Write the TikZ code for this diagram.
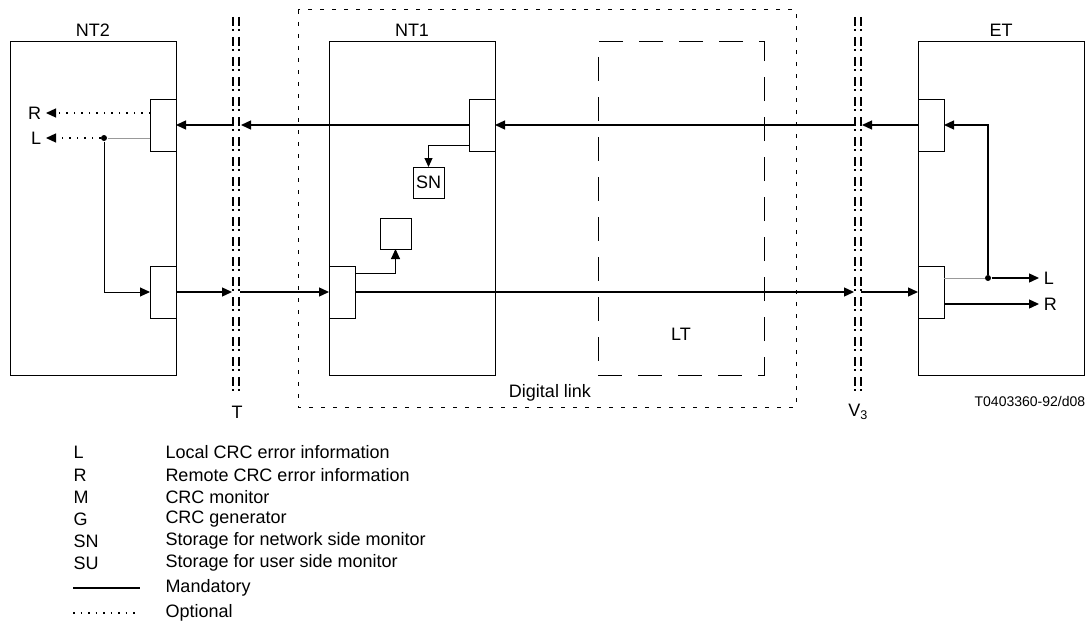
\documentclass[tikz,border=0pt]{standalone}
\usepackage{fontspec}
\setmainfont{Liberation Sans}
\usetikzlibrary{arrows.meta,positioning}

\begin{document}
\begin{tikzpicture}[x=1pt, y=-1pt, line width=1pt,
    every node/.style={font=\fontsize{18}{21}\selectfont},
    unit/.style={draw, anchor=north west, inner sep=0pt, outer sep=0pt, minimum width=166pt, minimum height=333pt},
    port/.style={draw, fill=white, anchor=north west, inner sep=0pt, outer sep=0pt, minimum width=26pt, minimum height=52pt},
    store/.style={draw, anchor=north west, inner sep=0pt, outer sep=0pt, minimum width=31pt, minimum height=31pt},
    sig/.style={-{Triangle[length=10pt,width=9pt]}, line width=1.3pt},
    tap/.style={draw=gray!80, line width=1pt},
    opt/.style={line width=1.2pt, dash pattern=on 1.5pt off 6pt},
    iface/.style={line width=2.2pt, dash pattern=on 9pt off 3pt on 2pt off 6pt},
    dot/.style={circle, fill, inner sep=0pt, minimum size=6pt}]
  \useasboundingbox (0,0) rectangle (1091,626);

  % digital link frame and LT
  \draw[dash pattern=on 4pt off 8pt] (298,10) rectangle (796,407);
  \node (lt) [unit, dash pattern=on 24pt off 16pt] at (598,42) {};
  \node (ltlabel) at (681,334) {LT};
  \node (linklabel) at (550,393) {Digital link};

  % equipment
  \node (nt2) [unit] at (10,42) {};
  \node (nt1) [unit] at (329,42) {};
  \node (et) [unit] at (918,42) {};
  \node (nt2name) [above=2pt of nt2.north] {NT2};
  \node (nt1name) [above=2pt of nt1.north] {NT1};
  \node (etname) [above=2pt of et.north] {ET};

  \node (nt2up) [port] at (150,99) {};
  \node (nt2lo) [port] at (150,266) {};
  \node (nt1up) [port] at (469,99) {};
  \node (nt1lo) [port] at (329,266) {};
  \node (etup) [port] at (918,99) {};
  \node (etlo) [port] at (918,266) {};
  \node (sn) [store] at (413,167) {SN};
  \node (gen) [store] at (380,218) {};

  % interfaces T and V3
  \foreach \xa in {233,239,855,861}
    \draw[iface] (\xa,17) -- (\xa,396);
  \node (tlabel) at (237,412) {T};
  \node (vlabel) at (858,412) {V\textsubscript{3}};
  \node (code) [anchor=east, font=\fontsize{14}{16}\selectfont] at (1089,401) {T0403360-92/d08};

  \coordinate (tUl) at (233,125);
  \coordinate (tUr) at (241,125);
  \coordinate (tLl) at (232,292);
  \coordinate (tLr) at (240,292);
  \coordinate (vUl) at (855,125);
  \coordinate (vUr) at (862,125);
  \coordinate (vLl) at (854,292);
  \coordinate (vLr) at (861,292);

  % main paths
  \draw[sig] (etup.west) -- (vUr);
  \draw[sig] (vUl) -- (nt1up.east);
  \draw[sig] (nt1up.west) -- (tUr);
  \draw[sig] (tUl) -- (nt2up.east);
  \draw[sig] (nt2lo.east) -- (tLl);
  \draw[sig] (tLr) -- (nt1lo.west);
  \draw[sig] (nt1lo.east) -- (vLl);
  \draw[sig] (vLr) -- (etlo.west);

  % NT2 side
  \coordinate (rIn) at (150,113);
  \coordinate (rOut) at (46,113);
  \coordinate (lIn) at (150,138);
  \coordinate (lOut) at (46,138);
  \node (nt2dot) [dot] at (104,138) {};
  \draw[opt, -{Triangle[length=10pt,width=9pt]}] (rIn) -- (rOut);
  \draw[tap] (lIn) -- (nt2dot);
  \draw[opt, -{Triangle[length=10pt,width=9pt]}] (nt2dot) -- (lOut);
  \draw[sig, line width=1pt] (nt2dot) |- (nt2lo.west);
  \node (rnt2) [left=1pt of rOut] {R};
  \node (lnt2) [left=1pt of lOut] {L};

  % NT1 side
  \coordinate (snTap) at (469,145);
  \coordinate (genTap) at (355,273);
  \draw[tap, -{Triangle[length=9pt,width=8pt]}, draw=black] (snTap) -| (sn.north);
  \draw[sig, line width=1pt] (genTap) -| (gen.south);

  % ET side
  \coordinate (etL) at (944,278);
  \coordinate (etR) at (944,304);
  \coordinate (lEnd) at (1039,278);
  \coordinate (rEnd) at (1039,304);
  \node (etdot) [dot] at (988,278) {};
  \draw[tap] (etL) -- (etdot);
  \draw[sig] (etdot) -- (lEnd);
  \draw[sig] (etdot) |- (etup.east);
  \draw[sig] (etR) -- (rEnd);
  \node (let) [right=1pt of lEnd] {L};
  \node (ret) [right=1pt of rEnd] {R};

  % key
  \foreach \y/\k/\d [count=\i] in {452/L/Local CRC error information,
      475/R/Remote CRC error information, 497/M/CRC monitor, 519/G/CRC generator,
      541/SN/Storage for network side monitor, 563/SU/Storage for user side monitor,
      588//Mandatory, 613//Optional} {
    \node (key\i) [anchor=west, inner sep=0pt] at (73,\y) {\k};
    \node (desc\i) [anchor=west, inner sep=0pt] at (165,\y) {\d};
  }
  \draw[line width=1.2pt] (73,588) -- (140,588);
  \draw[opt] (73,613) -- (140,613);
\end{tikzpicture}
\end{document}
